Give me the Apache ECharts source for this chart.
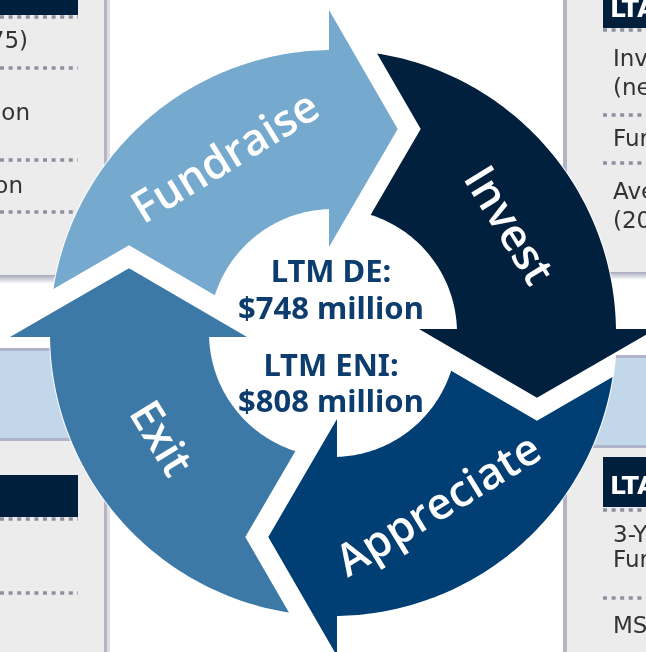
<!DOCTYPE html>
<html><head><meta charset="utf-8">
<script src="https://cdn.jsdelivr.net/npm/echarts@6/dist/echarts.min.js"></script>
<style>html,body{margin:0;padding:0;background:#fff;overflow:hidden}#c{width:646px;height:652px}</style>
</head><body><div id="c"></div>
<script>
// ---- data ----
const stages = ['Fundraise', 'Invest', 'Appreciate', 'Exit'];
const stageShares = [25, 25, 25, 25];
const centerLines = ['LTM DE:', '$748 million', 'LTM ENI:', '$808 million'];
const leftTopTexts = ['75)', 'ion', 'on'];
const rightTopHeader = 'LTA';
const rightTopTexts = ['Inv', '(ne', 'Fur', 'Ave', '(20'];
const rightBottomHeader = 'LTA';
const rightBottomTexts = ['3-Y', 'Fur', 'MSC'];

// ---- styles / geometry ----
const stageColors = ['#75aace', '#00203d', '#003e73', '#3c79a6'];
const CENTER_COLOR = '#0d3d6e';
const OUTER_R = 283, INNER_R = 124, WING_OUT = 323, WING_IN = 86, TIP_R = 214, TIP_DEG = 17.6;
const GAP = 23, BACK_OFF = 4, DISC_R = 284, LABEL_R = 204, LABEL_BACK = 31.5, START_DEG = -90;

const total = stageShares.reduce((s, v) => s + v, 0);
const headAngles = [];
(function () { let acc = START_DEG; stageShares.forEach(v => { acc += v / total * 360; headAngles.push(acc); }); })();

function norm(d) { return ((d % 360) + 360) % 360; }
function add(p, v, s) { return [p[0] + v[0] * s, p[1] + v[1] * s]; }

function makeHelpers(api) {
  const P = (r, d) => api.coord([r, norm(d)]);
  const c = P(0, 0);
  const ref = P(100, 0);
  const sc = Math.hypot(ref[0] - c[0], ref[1] - c[1]) / 100;
  const unit = d => { const p = P(100, d); const dx = p[0] - c[0], dy = p[1] - c[1]; const L = Math.hypot(dx, dy); return [dx / L, dy / L]; };
  const tang = d => { const u = unit(d); return [-u[1], u[0]]; };
  return { P, c, sc, tang };
}

function headChevron(h, a) {
  const t = h.tang(a);
  const off = BACK_OFF * h.sc;
  return {
    wo: add(h.P(WING_OUT, a), t, -off),
    tip: h.P(TIP_R, a + TIP_DEG),
    wi: add(h.P(WING_IN, a), t, -off),
    t: t
  };
}

function segCircle(A, B, c, rho) {
  const d = [B[0] - A[0], B[1] - A[1]], f = [A[0] - c[0], A[1] - c[1]];
  const a2 = d[0] * d[0] + d[1] * d[1], b = 2 * (f[0] * d[0] + f[1] * d[1]), cc = f[0] * f[0] + f[1] * f[1] - rho * rho;
  const disc = Math.max(0, b * b - 4 * a2 * cc), sq = Math.sqrt(disc);
  let s = (-b - sq) / (2 * a2);
  if (s < 0 || s > 1) s = (-b + sq) / (2 * a2);
  return [A[0] + d[0] * s, A[1] + d[1] * s];
}

function angleOf(p, c) { return Math.atan2(p[0] - c[0], -(p[1] - c[1])) * 180 / Math.PI; }

function renderArrow(params, api) {
  const k = params.dataIndex, n = stages.length;
  const h = makeHelpers(api);
  const j = (k - 1 + n) % n;
  const aj = headAngles[j];
  const a = aj + (norm(headAngles[k] - aj) || 360);
  // tail notch = previous head shifted forward by the gap
  const prev = headChevron(h, aj);
  const g = GAP * h.sc;
  const wo2 = add(prev.wo, prev.t, g), tip2 = add(prev.tip, prev.t, g), wi2 = add(prev.wi, prev.t, g);
  const pOut = segCircle(wo2, tip2, h.c, OUTER_R * h.sc);
  const pIn = segCircle(tip2, wi2, h.c, INNER_R * h.sc);
  const phiOut = aj + norm(angleOf(pOut, h.c) - aj);
  const phiIn = aj + norm(angleOf(pIn, h.c) - aj);
  const aOut = a - Math.asin(BACK_OFF / OUTER_R) * 180 / Math.PI;
  const aIn = a - Math.asin(BACK_OFF / INNER_R) * 180 / Math.PI;
  const head = headChevron(h, a);
  const pts = [pOut];
  for (let d = phiOut; d < aOut; d += 1) pts.push(h.P(OUTER_R, d));
  pts.push(h.P(OUTER_R, aOut));
  pts.push(head.wo, head.tip, head.wi);
  pts.push(h.P(INNER_R, aIn));
  for (let d = aIn; d > phiIn; d -= 1) pts.push(h.P(INNER_R, d));
  pts.push(pIn, tip2);
  const la = a - LABEL_BACK;
  const lp = h.P(LABEL_R, la);
  const ln = norm(la);
  const rotDeg = (ln > 90 && ln < 270) ? 180 - ln : -ln;
  return {
    type: 'group',
    children: [
      { type: 'polygon', shape: { points: pts }, style: { fill: stageColors[k] } },
      { type: 'text', x: lp[0], y: lp[1], rotation: rotDeg * Math.PI / 180,
        style: { text: stages[k], fill: '#ffffff', fontSize: 44, fontWeight: 600, fontFamily: '"Open Sans"',
          align: 'center', verticalAlign: 'middle', textAlign: 'center', textVerticalAlign: 'middle' } }
    ]
  };
}

function renderDisc(params, api) {
  const h = makeHelpers(api);
  return { type: 'circle', shape: { cx: h.c[0], cy: h.c[1], r: DISC_R * h.sc }, style: { fill: '#ffffff' } };
}

const CENTER_OFFSETS = [-60, -23, 34, 70];
function renderCenter(params, api) {
  const h = makeHelpers(api);
  return {
    type: 'group',
    children: centerLines.map((t, i) => ({
      type: 'text', x: h.c[0] - 2, y: h.c[1] + CENTER_OFFSETS[i],
      style: { text: t, fill: CENTER_COLOR, fontSize: 31, fontWeight: 'bold', fontFamily: '"Noto Sans"',
        align: 'center', verticalAlign: 'middle', textAlign: 'center', textVerticalAlign: 'middle' }
    }))
  };
}

// ---- background slide pieces ----
const PANEL = '#ececec', NAVY = '#001f3d', BAND = '#c2d8ea', EDGE = '#b3b5c5', BANDLINE = '#b0b4c8', TXT = '#333333', DOT = '#8e90a0';
function rect(x, y, w, hh, fill) { return { type: 'rect', silent: true, z: 0, shape: { x: x, y: y, width: w, height: hh }, style: { fill: fill } }; }
function shadowH(x, y, w, hh) {
  return { type: 'rect', silent: true, z: 0, shape: { x: x, y: y, width: w, height: hh },
    style: { fill: new echarts.graphic.LinearGradient(0, 0, 0, 1, [{ offset: 0, color: '#a7a9ba' }, { offset: 1, color: '#f6f6f8' }]) } };
}
function dots(x1, x2, y) { return { type: 'line', silent: true, z: 0, shape: { x1: x1, y1: y, x2: x2, y2: y }, style: { stroke: DOT, lineWidth: 3.5, lineDash: [4, 4.6] } }; }
function txt(x, y, t, align, color, weight, size) {
  return { type: 'text', silent: true, z: 0, x: x, y: y,
    style: { text: t, fill: color || TXT, fontSize: size || 23, fontWeight: weight || 'normal', fontFamily: '"DejaVu Sans"',
      align: align, verticalAlign: 'middle', textAlign: align, textVerticalAlign: 'middle' } };
}

const graphics = [
  // left top panel
  rect(0, 0, 104, 275, PANEL), shadowH(0, 275, 107, 8), rect(104, 0, 3, 280, EDGE), rect(107, 0, 3, 280, '#dddee5'),
  rect(0, 0, 78, 15, NAVY), dots(0, 78, 17),
  txt(28, 42, leftTopTexts[0], 'right'), dots(0, 78, 68),
  txt(30, 114, leftTopTexts[1], 'right'), dots(0, 78, 160),
  txt(23, 187, leftTopTexts[2], 'right'), dots(0, 78, 212),
  // left band
  rect(0, 348, 333, 3, BANDLINE), rect(0, 351, 333, 87, BAND), rect(0, 438, 333, 3, BANDLINE),
  // left bottom panel
  rect(0, 441, 104, 211, PANEL), rect(104, 441, 3, 211, EDGE), rect(107, 441, 3, 211, '#dddee5'),
  rect(0, 475, 78, 42, NAVY), dots(0, 78, 519), dots(0, 78, 593),
  // right top panel
  rect(567, 0, 79, 272, PANEL), shadowH(563, 272, 83, 7), rect(563, 0, 4, 275, EDGE),
  rect(603, 0, 43, 28, NAVY), txt(610, 10, rightTopHeader, 'left', '#ffffff', 'bold', 25), dots(603, 646, 30),
  txt(613, 60, rightTopTexts[0], 'left'), txt(613, 89, rightTopTexts[1], 'left'), dots(603, 646, 115),
  txt(613, 140, rightTopTexts[2], 'left'), dots(603, 646, 163),
  txt(613, 193, rightTopTexts[3], 'left'), txt(613, 222, rightTopTexts[4], 'left'),
  // right band
  rect(333, 355, 313, 3, BANDLINE), rect(333, 358, 313, 87, BAND), rect(333, 445, 313, 3, BANDLINE),
  // right bottom panel
  rect(567, 448, 79, 204, PANEL), rect(563, 448, 4, 204, EDGE),
  rect(603, 457, 43, 50, NAVY), txt(610, 487, rightBottomHeader, 'left', '#ffffff', 'bold', 25), dots(603, 646, 510),
  txt(613, 536, rightBottomTexts[0], 'left'), txt(613, 561, rightBottomTexts[1], 'left'), dots(603, 646, 598),
  txt(613, 627, rightBottomTexts[2], 'left')
];

const chart = echarts.init(document.getElementById('c'), null, { renderer: 'canvas', width: 646, height: 652 });
chart.setOption({
  animation: false,
  backgroundColor: '#ffffff',
  polar: { center: [333, 333], radius: 330 },
  angleAxis: { type: 'value', min: 0, max: 360, startAngle: 90, clockwise: true, show: false },
  radiusAxis: { type: 'value', min: 0, max: 330, show: false },
  graphic: { elements: graphics },
  series: [
    { type: 'custom', name: 'disc', coordinateSystem: 'polar', z: 1, silent: true, renderItem: renderDisc, data: [[0, 0]] },
    { type: 'custom', name: 'cycle', coordinateSystem: 'polar', z: 2, silent: true, renderItem: renderArrow,
      data: stages.map((s, i) => ({ name: s, value: [OUTER_R, norm(headAngles[i])] })) },
    { type: 'custom', name: 'center', coordinateSystem: 'polar', z: 3, silent: true, renderItem: renderCenter, data: [[0, 0]] }
  ]
});
</script></body></html>
